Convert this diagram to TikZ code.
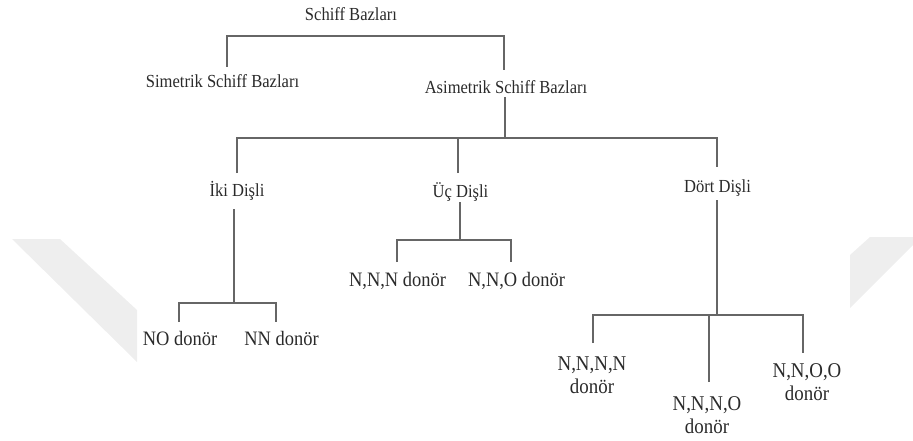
\documentclass[tikz,border=0pt]{standalone}
\usepackage{fontspec}
\setmainfont{Liberation Serif}[FakeStretch=0.9]
\definecolor{txtc}{HTML}{2A2A2A}
\definecolor{linec}{HTML}{666666}
\definecolor{wmc}{HTML}{EEEEEE}
\newcommand{\twoln}[2]{\begin{tabular}[t]{@{}c@{}}#1\\#2\end{tabular}}
\begin{document}
\begin{tikzpicture}[x=1pt,y=-1pt,
  lbl/.style={text=txtc, inner sep=0pt, anchor=base},
  upper/.style={lbl, font=\fontsize{18.4}{23}\selectfont},
  lower/.style={lbl, font=\fontsize{20.5}{23}\selectfont},
  bottom/.style={lbl, font=\fontsize{21}{23}\selectfont},
  conn/.style={draw=linec, line width=1.5pt}]
\useasboundingbox (0,0) rectangle (913,441);
\fill[wmc] (12,239) -- (60,239) -- (137,310) -- (137,362) -- cycle;
\fill[wmc] (850,255) -- (870,237) -- (913,237) -- (913,245) -- (850,308) -- cycle;

% nodes
\node[upper] (root) at (351,21) {Schiff Bazları};
\node[upper] (sim) at (222.5,88) {Simetrik Schiff Bazları};
\node[upper] (asim) at (506,94) {Asimetrik Schiff Bazları};
\node[upper] (iki) at (237,196) {İki Dişli};
\node[upper] (uc) at (460.5,197) {Üç Dişli};
\node[upper] (dort) at (717.5,193) {Dört Dişli};
\node[lower] (nnn) at (397.5,286) {N,N,N donör};
\node[lower] (nno) at (516.5,286) {N,N,O donör};
\node[lower] (no) at (180,345) {NO donör};
\node[lower] (nn) at (281.5,345) {NN donör};
\node[bottom] (nnnn) at (592,370) {\twoln{N,N,N,N}{donör}};
\node[bottom] (nnno) at (707,410) {\twoln{N,N,N,O}{donör}};
\node[bottom] (nnoo) at (807,377) {\twoln{N,N,O,O}{donör}};

% connector end points
\coordinate (j1) at ([shift={(0,15)}]root.base);
\coordinate (simtop) at ([shift={(4.5,-21)}]sim.base);
\coordinate (asimtop) at ([shift={(-2,-24)}]asim.base);
\coordinate (asimbot) at ([shift={(-1,3)}]asim.base);
\coordinate (j2) at ([shift={(-1,44)}]asim.base);
\coordinate (ikitop) at ([shift={(0,-23)}]iki.base);
\coordinate (ikibot) at ([shift={(-3,13)}]iki.base);
\coordinate (j3) at ([shift={(-3,107)}]iki.base);
\coordinate (uctop) at ([shift={(-2.5,-24)}]uc.base);
\coordinate (ucbot) at ([shift={(-0.5,5)}]uc.base);
\coordinate (j4) at ([shift={(-0.5,43)}]uc.base);
\coordinate (dorttop) at ([shift={(-0.5,-26)}]dort.base);
\coordinate (dortbot) at ([shift={(-0.5,7)}]dort.base);
\coordinate (j5) at ([shift={(-0.5,122)}]dort.base);
\coordinate (notop) at ([shift={(-1,-23)}]no.base);
\coordinate (nntop) at ([shift={(-5.5,-23)}]nn.base);
\coordinate (nnntop) at ([shift={(-0.5,-24)}]nnn.base);
\coordinate (nnotop) at ([shift={(-5.5,-24)}]nno.base);
\coordinate (nnnntop) at ([shift={(1,-27)}]nnnn.base);
\coordinate (nnnotop) at ([shift={(2,-28)}]nnno.base);
\coordinate (nnootop) at ([shift={(-4,-24)}]nnoo.base);

% connectors
\draw[conn] (simtop) |- (j1) -| (asimtop);
\draw[conn] (asimbot) -- (j2);
\draw[conn] (ikitop) |- (j2) -| (dorttop);
\draw[conn] (uctop) -- (uctop |- j2);
\draw[conn] (ikibot) -- (j3);
\draw[conn] (notop) |- (j3) -| (nntop);
\draw[conn] (ucbot) -- (j4);
\draw[conn] (nnntop) |- (j4) -| (nnotop);
\draw[conn] (dortbot) -- (j5);
\draw[conn] (nnnntop) |- (j5) -| (nnootop);
\draw[conn] (nnnotop) -- (nnnotop |- j5);
\end{tikzpicture}
\end{document}
